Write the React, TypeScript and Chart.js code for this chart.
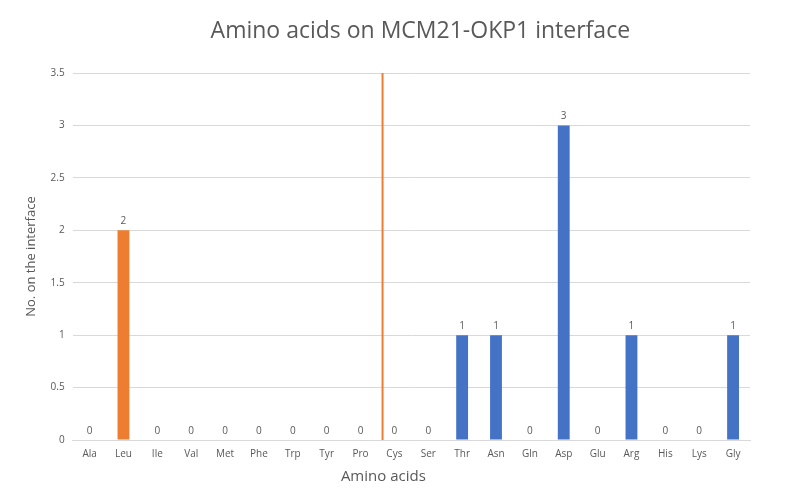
import React, { useEffect, useRef } from "react";
import { Chart, registerables } from "chart.js";

Chart.register(...registerables);

const categories = ["Ala", "Leu", "Ile", "Val", "Met", "Phe", "Trp", "Tyr", "Pro", "Cys", "Ser", "Thr", "Asn", "Gln", "Asp", "Glu", "Arg", "His", "Lys", "Gly"];
const counts = [0, 2, 0, 0, 0, 0, 0, 0, 0, 0, 0, 1, 1, 0, 3, 0, 1, 0, 0, 1];
const hydrophobicCount = 9; // first 9 categories shown in orange
const dividerPosition = 8.65; // category index position of the vertical divider
const dividerTop = 3.5;
const yMax = 3.5;
const yStep = 0.5;
const chartTitle = "Amino acids on MCM21-OKP1 interface";
const xTitle = "Amino acids";
const yTitle = "No. on the interface";

const ORANGE = "#ED7D31";
const BLUE = "#4472C4";
const TEXT = "#595959";
const FONT = "'Open Sans', sans-serif";

const labelPlugin = {
  id: "valueLabels",
  afterDatasetsDraw(chart: any) {
    const ctx = chart.ctx;
    const meta = chart.getDatasetMeta(0);
    ctx.save();
    ctx.fillStyle = TEXT;
    ctx.font = `10px ${FONT}`;
    ctx.textAlign = "center";
    ctx.textBaseline = "bottom";
    meta.data.forEach((bar: any, i: number) => {
      ctx.fillText(String(counts[i]), bar.x, bar.y - 4);
    });
    ctx.restore();
  },
};

const dividerPlugin = {
  id: "divider",
  afterDatasetsDraw(chart: any) {
    const ctx = chart.ctx;
    const xs = chart.scales.x;
    const ys = chart.scales.y;
    const x = xs.getPixelForValue(dividerPosition);
    ctx.save();
    ctx.strokeStyle = ORANGE;
    ctx.lineWidth = 2;
    ctx.beginPath();
    ctx.moveTo(x, ys.getPixelForValue(0));
    ctx.lineTo(x, ys.getPixelForValue(dividerTop));
    ctx.stroke();
    ctx.restore();
  },
};

const titlesPlugin = {
  id: "titles",
  afterDraw(chart: any) {
    const ctx = chart.ctx;
    const area = chart.chartArea;
    const cx = (area.left + area.right) / 2;
    ctx.save();
    ctx.fillStyle = TEXT;
    ctx.textAlign = "center";
    ctx.textBaseline = "middle";
    ctx.font = `23px ${FONT}`;
    ctx.fillText(chartTitle, cx + 9, 31);
    ctx.font = `15px ${FONT}`;
    ctx.fillText(xTitle, cx - 28, 477);
    ctx.restore();
  },
};

export default function App() {
  const ref = useRef<HTMLCanvasElement>(null);
  useEffect(() => {
    if (!ref.current) return;
    const chart = new Chart(ref.current, {
      type: "bar",
      data: {
        labels: categories,
        datasets: [
          {
            data: counts,
            backgroundColor: counts.map((_, i) => (i < hydrophobicCount ? ORANGE : BLUE)),
            barPercentage: 0.7,
            categoryPercentage: 0.5,
          },
        ],
      },
      options: {
        animation: false,
        responsive: true,
        maintainAspectRatio: false,
        layout: { padding: { left: 18, right: 50, top: 73, bottom: 27 } },
        plugins: {
          legend: { display: false },
          tooltip: { enabled: false },
          title: { display: false },
        },
        scales: {
          x: {
            grid: { display: false, drawTicks: false },
            border: { color: "#D9D9D9" },
            ticks: { color: TEXT, font: { family: FONT, size: 10 }, padding: 8, maxRotation: 0 },
          },
          y: {
            min: 0,
            max: yMax,
            ticks: {
              stepSize: yStep,
              color: TEXT,
              font: { family: FONT, size: 10 },
              padding: 8,
              callback: (v: any) => String(Number(v)),
            },
            grid: { color: "#D9D9D9", drawTicks: false },
            border: { display: false },
            title: {
              display: true,
              text: yTitle,
              color: TEXT,
              font: { family: FONT, size: 13 },
              padding: { top: 5, bottom: 4 },
            },
          },
        },
      },
      plugins: [labelPlugin, dividerPlugin, titlesPlugin],
    });
    return () => chart.destroy();
  }, []);
  return (
    <div style={{ position: "fixed", left: 0, top: 0, width: 800, height: 495, background: "#fff" }}>
      <canvas ref={ref} />
    </div>
  );
}
